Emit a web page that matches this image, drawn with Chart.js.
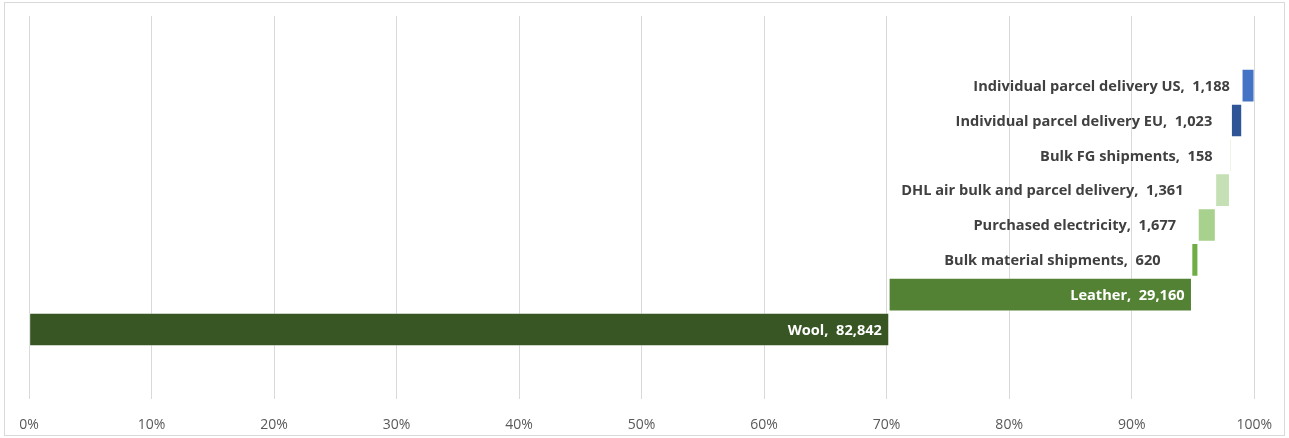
<!DOCTYPE html>
<html>
<head>
<meta charset="utf-8">
<script src="https://cdn.jsdelivr.net/npm/chart.js@4/dist/chart.umd.min.js"></script>
<style>
  html, body { margin: 0; padding: 0; background: #fff; }
  #wrap { width: 1289px; height: 438px; position: relative; }
</style>
</head>
<body>
<div id="wrap"><canvas id="chart" width="1289" height="438"></canvas></div>
<script>
// categories top -> bottom, as they appear in the chart
let categories = ['Individual parcel delivery US', 'Individual parcel delivery EU', 'Bulk FG shipments',
  'DHL air bulk and parcel delivery', 'Purchased electricity', 'Bulk material shipments', 'Leather', 'Wool']
let values = [1188, 1023, 158, 1361, 1677, 620, 29160, 82842]
let colors = ['#4472C4', '#2F5597', '#E2F0D9', '#C5E0B4', '#A9D18E', '#70AD47', '#548235', '#375623']
let tickValues = [0, 0.1, 0.2, 0.3, 0.4, 0.5, 0.6, 0.7, 0.8, 0.9, 1]

// waterfall: each bar starts where the one below ends (Wool at the bottom starts at 0)
let total = values.reduce((a, b) => a + b, 0)
let ranges = new Array(values.length)
let run = 0
for (let i = values.length - 1; i >= 0; i--) {
    ranges[i] = [run / total, (run + values[i]) / total]
    run += values[i]
}

// two empty slots above and below, like the original
let labels = ['', ' ', ...categories, '  ', '   ']
let barData = [null, null, ...ranges, null, null]
let barColors = ['#fff', '#fff', ...colors, '#fff', '#fff']

// label gap to the left of the small bars (px)
let outsideGap = [12, 19, 17, 32, 22, 31]

function fmt(n) { return n.toLocaleString('en-US') }

const labelPlugin = {
    id: 'barLabels',
    afterDatasetsDraw(chart) {
        const ctx = chart.ctx
        const meta = chart.getDatasetMeta(0)
        ctx.save()
        ctx.font = 'bold 14.6px "Open Sans"'
        ctx.textAlign = 'right'
        ctx.textBaseline = 'middle'
        categories.forEach((name, i) => {
            const bar = meta.data[i + 2]
            const txt = name + ',  ' + fmt(values[i])
            const left = Math.min(bar.x, bar.base)
            const right = Math.max(bar.x, bar.base)
            if (values[i] > 10000) {
                ctx.fillStyle = '#ffffff'
                ctx.fillText(txt, right - 7, bar.y + 1)
            } else {
                ctx.fillStyle = '#404040'
                ctx.fillText(txt, left - outsideGap[i], bar.y + 1)
            }
        })
        ctx.restore()
    }
}

const borderPlugin = {
    id: 'outerBorder',
    beforeDraw(chart) {
        const ctx = chart.ctx
        ctx.save()
        ctx.strokeStyle = '#d9d9d9'
        ctx.lineWidth = 1
        ctx.strokeRect(4.5, 2.5, 1280, 433)
        ctx.restore()
    }
}

new Chart(document.getElementById('chart').getContext('2d'), {
    type: 'bar',
    data: {
        labels: labels,
        datasets: [{
            data: barData,
            backgroundColor: barColors,
            borderColor: 'rgba(255,255,255,0.35)',
            borderWidth: 1,
            borderSkipped: false,
            barThickness: 33
        }]
    },
    options: {
        indexAxis: 'y',
        responsive: false,
        animation: false,
        layout: { padding: { left: 29, right: 34, top: 16, bottom: -12 } },
        plugins: {
            legend: { display: false },
            tooltip: { enabled: false }
        },
        scales: {
            x: {
                min: 0,
                max: 1,
                afterBuildTicks(axis) { axis.ticks = tickValues.map(v => ({ value: v })) },
                grid: { color: '#d9d9d9', lineWidth: 1, drawTicks: false },
                border: { display: false },
                ticks: {
                    padding: 17,
                    color: '#595959',
                    font: { family: 'Open Sans', size: 14 },
                    callback: v => Math.round(v * 100) + '%'
                }
            },
            y: {
                offset: false,
                display: false,
                grid: { display: false }
            }
        }
    },
    plugins: [labelPlugin, borderPlugin]
});
</script>
</body>
</html>
